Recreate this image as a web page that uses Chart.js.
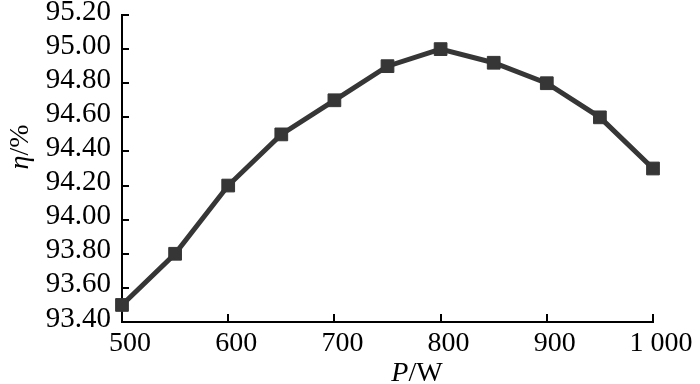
<!DOCTYPE html>
<html lang="en">
<head>
    <meta charset="UTF-8">
    <title>Efficiency vs Power</title>
    <script src="https://cdn.jsdelivr.net/npm/chart.js"></script>
    <style>
        html, body { margin: 0; padding: 0; background: #fff; }
        #wrap { width: 700px; height: 384px; }
    </style>
</head>
<body>
    <div id="wrap"><canvas id="effChart" width="700" height="384"></canvas></div>

    <script>
        // data
        const powerW = [500, 550, 600, 650, 700, 750, 800, 850, 900, 950, 1000];
        const efficiency = [93.50, 93.80, 94.20, 94.50, 94.70, 94.90, 95.00, 94.92, 94.80, 94.60, 94.30];
        const xMin = 500, xMax = 1000, xStep = 100;
        const yMin = 93.4, yMax = 95.2, yStep = 0.2;

        const serif = "'Liberation Serif', 'DejaVu Serif', serif";

        // inward tick marks + axis titles with italic symbols
        const axisDecor = {
            id: "axisDecor",
            afterDraw(chart) {
                const { ctx, chartArea, scales: { x, y } } = chart;
                ctx.save();
                ctx.strokeStyle = "#000";
                ctx.lineWidth = 2;
                x.ticks.forEach(t => {
                    const px = Math.round(x.getPixelForValue(t.value));
                    ctx.beginPath();
                    ctx.moveTo(px, chartArea.bottom);
                    ctx.lineTo(px, chartArea.bottom - 8);
                    ctx.stroke();
                });
                y.ticks.forEach(t => {
                    const py = Math.round(y.getPixelForValue(t.value));
                    ctx.beginPath();
                    ctx.moveTo(chartArea.left, py);
                    ctx.lineTo(chartArea.left + 7, py);
                    ctx.stroke();
                });

                ctx.fillStyle = "#000";
                ctx.textBaseline = "alphabetic";
                drawMixed(ctx, [["italic", "P"], ["normal", "/W"]], 417, 381, 0);
                drawMixed(ctx, [["italic", "η"], ["normal", "/%"]], 28, 147, -Math.PI / 2);
                ctx.restore();
            }
        };

        function drawMixed(ctx, parts, cx, baseY, rot) {
            const size = 28;
            let total = 0;
            parts.forEach(p => {
                ctx.font = `${p[0]} ${size}px ${serif}`;
                total += ctx.measureText(p[1]).width;
            });
            ctx.save();
            ctx.translate(cx, baseY);
            ctx.rotate(rot);
            let pos = -total / 2;
            parts.forEach(p => {
                ctx.font = `${p[0]} ${size}px ${serif}`;
                ctx.textAlign = "left";
                ctx.fillText(p[1], pos, 0);
                pos += ctx.measureText(p[1]).width;
            });
            ctx.restore();
        }

        const ctx = document.getElementById("effChart").getContext("2d");
        new Chart(ctx, {
            type: "line",
            data: {
                datasets: [{
                    label: "η",
                    data: powerW.map((p, i) => ({ x: p, y: efficiency[i] })),
                    borderColor: "#363636",
                    backgroundColor: "#363636",
                    borderWidth: 5,
                    pointStyle: "rect",
                    pointRadius: 9,
                    pointBorderWidth: 1,
                    tension: 0,
                    clip: false
                }]
            },
            options: {
                responsive: false,
                animation: false,
                layout: { padding: { left: 0, top: 0, right: 47, bottom: 0 } },
                plugins: {
                    legend: { display: false },
                    tooltip: { enabled: false }
                },
                scales: {
                    x: {
                        type: "linear",
                        min: xMin,
                        max: xMax,
                        grid: { display: false, drawTicks: false },
                        border: { display: true, color: "#000", width: 2 },
                        ticks: {
                            stepSize: xStep,
                            color: "#000",
                            padding: 5,
                            labelOffset: 8,
                            maxRotation: 0,
                            font: { family: serif, size: 28 },
                            callback: v => v >= 1000 ? "1 000" : String(v)
                        },
                        afterFit: s => { s.height = 62; }
                    },
                    y: {
                        min: yMin,
                        max: yMax,
                        grid: { display: false, drawTicks: false },
                        border: { display: true, color: "#000", width: 2 },
                        ticks: {
                            stepSize: yStep,
                            autoSkip: false,
                            color: "#000",
                            padding: 11,
                            labelOffset: -3,
                            font: { family: serif, size: 29, lineHeight: 1.0 },
                            callback: v => Number(v).toFixed(2)
                        },
                        afterFit: s => {
                            s.width = 122;
                            s.paddingTop = 15;
                            s.paddingBottom = 0;
                        }
                    }
                }
            },
            plugins: [axisDecor]
        });
    </script>
</body>
</html>
